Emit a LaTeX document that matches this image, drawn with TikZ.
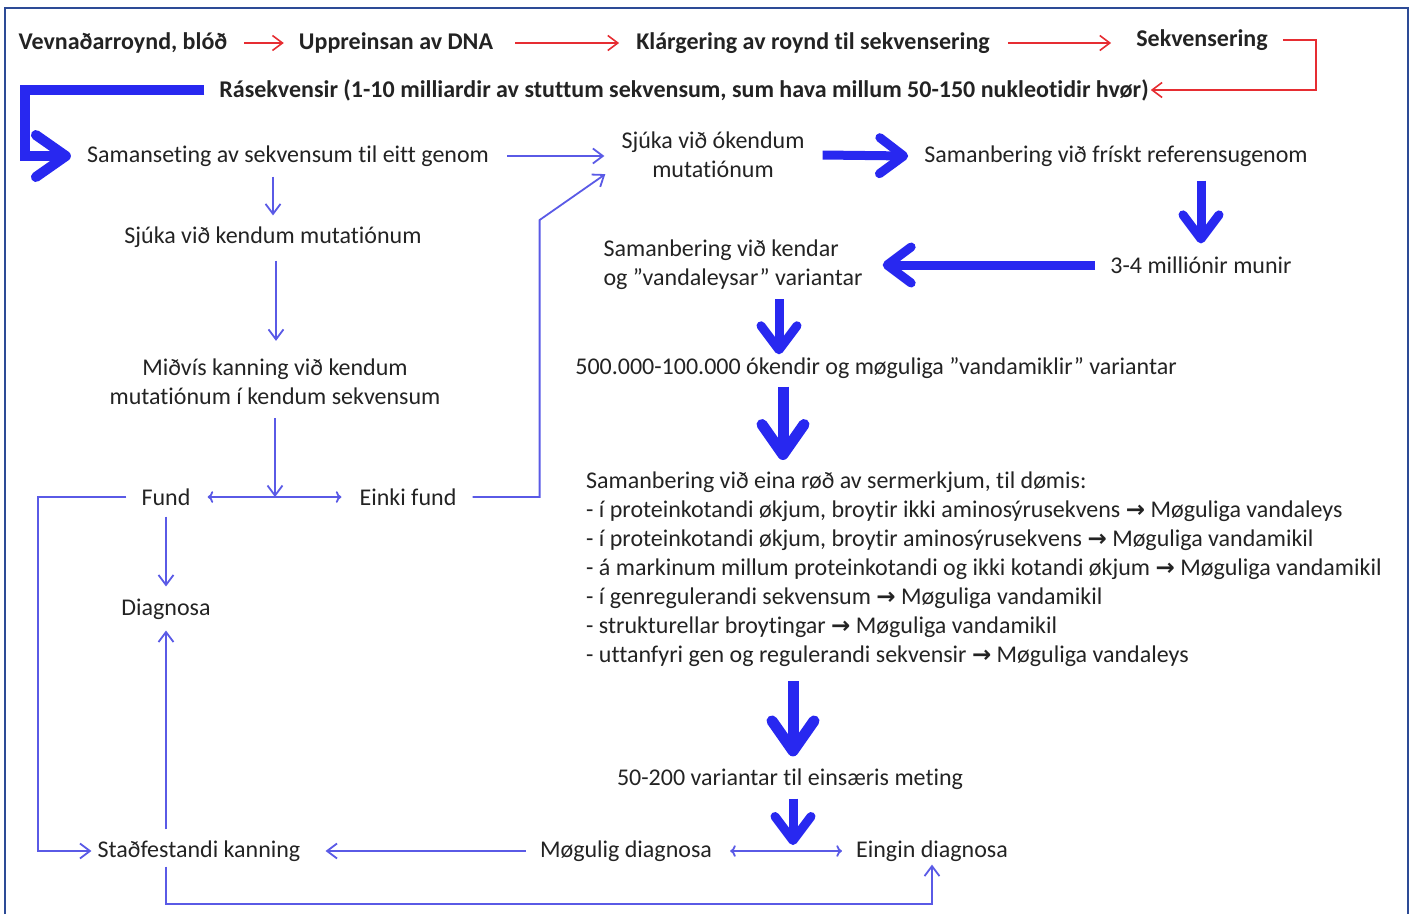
\documentclass[tikz,border=0pt]{standalone}
\usepackage{fontspec}
\setmainfont{Carlito}[Ligatures=CommonOff]
\newfontfamily\pila{DejaVu Sans}
\usetikzlibrary{arrows.meta}
\definecolor{rodur}{RGB}{230,45,50}
\definecolor{blar}{RGB}{90,90,230}
\definecolor{fatblar}{RGB}{40,40,240}
\definecolor{ramma}{RGB}{45,75,150}
\definecolor{tekst}{RGB}{35,35,35}
\tikzset{
  txt/.style={inner sep=0pt, text=tekst, font=\fontsize{24}{29}\selectfont},
  btxt/.style={inner sep=0pt, text=tekst, font=\fontsize{24}{29}\selectfont\bfseries},
  redarr/.style={draw=rodur, line width=1.6pt, -{Straight Barb[length=10pt,width=15pt]}},
  thinarr/.style={draw=blar, line width=1.8pt, -{Straight Barb[length=10pt,width=15pt]}},
  fatarr/.style={draw=fatblar, line width=9pt, -{Straight Barb[length=24pt,width=36pt,round]}},
  storarr/.style={draw=fatblar, line width=11pt, -{Straight Barb[length=30pt,width=42pt,round]}},
}
\newcommand{\pil}{{\pila\bfseries\fontsize{23}{29}\selectfont →}}

\begin{document}
\begin{tikzpicture}[x=1pt,y=-1pt]
  \useasboundingbox (0,0) rectangle (1410,914);
  \draw[ramma, line width=1.5pt] (5,914) -- (5,8) -- (1408,8) -- (1408,914);

  % top row
  \node[btxt] (vevn) at (123,43) {Vevnaðarroynd, blóð};
  \node[btxt] (uppr) at (396,43) {Uppreinsan av DNA};
  \node[btxt] (klar) at (813,43) {Klárgering av roynd til sekvensering};
  \node[btxt] (sekv) at (1202,40) {Sekvensering};
  \node[btxt] (rase) at (684,90) {Rásekvensir (1-10 milliardir av stuttum sekvensum, sum hava millum 50-150 nukleotidir hvør)};
  \draw[redarr] ([xshift=17pt]vevn.east) -- ([xshift=-15pt]uppr.west);
  \draw[redarr] ([xshift=22pt]uppr.east) -- ([xshift=-17pt]klar.west);
  \draw[redarr] ([xshift=18pt]klar.east) -- ([xshift=-25pt]klar.east -| sekv.west);
  \draw[redarr] ([xshift=15pt]sekv.east) -- ++(33,0) |- ([xshift=2pt]rase.east);

  % nodes
  \node[txt] (saman) at (288,156) {Samanseting av sekvensum til eitt genom};
  \node[txt, align=center] (okend) at (713,155) {Sjúka við ókendum\\mutatiónum};
  \node[txt] (frisk) at (1116,156) {Samanbering við frískt referensugenom};
  \node[txt] (munir) at (1201,265) {3-4 milliónir munir};
  \node[txt, align=left] (kendar) at (733,265) {Samanbering við kendar\\og ”vandaleysar” variantar};
  \node[txt] (ovand) at (876,368) {500.000-100.000 ókendir og møguliga ”vandamiklir” variantar};
  \node[txt, align=left, anchor=north west] (serm) at (586,472) {Samanbering við eina røð av sermerkjum, til dømis:\\
    - í proteinkotandi økjum, broytir ikki aminosýrusekvens \pil{} Møguliga vandaleys\\
    - í proteinkotandi økjum, broytir aminosýrusekvens \pil{} Møguliga vandamikil\\
    - á markinum millum proteinkotandi og ikki kotandi økjum \pil{} Møguliga vandamikil\\
    - í genregulerandi sekvensum \pil{} Møguliga vandamikil\\
    - strukturellar broytingar \pil{} Møguliga vandamikil\\
    - uttanfyri gen og regulerandi sekvensir \pil{} Møguliga vandaleys};
  \node[txt] (einsaer) at (790,779) {50-200 variantar til einsæris meting};
  \node[txt] (mogul) at (626,851) {Møgulig diagnosa};
  \node[txt] (eingin) at (932,851) {Eingin diagnosa};
  \node[txt] (stad) at (199,851) {Staðfestandi kanning};
  \node[txt] (kendmut) at (273,237) {Sjúka við kendum mutatiónum};
  \node[txt, align=center] (midvis) at (275,382) {Miðvís kanning við kendum\\mutatiónum í kendum sekvensum};
  \node[txt] (fund) at (166,497) {Fund};
  \node[txt] (einki) at (408,497) {Einki fund};
  \node[txt] (diag) at (166,609) {Diagnosa};
  \coordinate (hjorn) at (25,156);

  % thick arrows
  \draw[storarr, line width=10pt] ([xshift=-15pt]rase.west) -| (hjorn) -- ([xshift=-16pt]saman.west);
  \draw[fatarr] ([xshift=18pt]okend.east) -- ([xshift=-16pt]frisk.west);
  \draw[fatarr] ([yshift=-14pt]munir.north |- frisk.south) -- ([yshift=13pt]munir.north);
  \draw[fatarr] ([xshift=-15pt]munir.west) -- ([xshift=20pt]kendar.east |- munir.west);
  \draw[fatarr] ([xshift=46pt,yshift=-9pt]kendar.south) -- ([xshift=46pt,yshift=3pt]ovand.north -| kendar.south);
  \draw[storarr] ([xshift=-93pt,yshift=-8pt]ovand.south) -- ([xshift=-93pt,yshift=12pt]serm.north -| ovand.south);
  \draw[storarr] ([xshift=3pt,yshift=-14pt]serm.south -| einsaer.north) -- ([xshift=3pt,yshift=12pt]einsaer.north);
  \draw[fatarr] ([xshift=3pt,yshift=-9pt]einsaer.south) -- ([xshift=3pt,yshift=6pt]einsaer.south |- mogul.east);

  % thin arrows
  \draw[thinarr] ([xshift=18pt]saman.east) -- ([xshift=-17pt]saman.east -| okend.west);
  \draw[thinarr] ([yshift=-10pt]saman.south -| kendmut.north) -- ([yshift=11pt]kendmut.north);
  \draw[thinarr] ([xshift=3pt,yshift=-13pt]kendmut.south) -- ([xshift=3pt,yshift=18pt]midvis.north -| kendmut.south);
  \draw[thinarr] ([yshift=-13pt]midvis.south) -- (midvis.south |- fund.east);
  \draw[thinarr, <->] ([xshift=17pt]fund.east) -- ([xshift=-18pt]einki.west);
  \draw[thinarr] ([xshift=16pt]einki.east) -- ++(67,0) -- ++(0,-277) -- ([xshift=-16pt,yshift=4pt]okend.south west);
  \draw[thinarr] ([yshift=-11pt]fund.south) -- ([yshift=12pt]diag.north);
  \draw[thinarr] ([xshift=-15pt]fund.west) -- ++(-88,0) |- ([xshift=-6pt]stad.west);
  \draw[thinarr] ([yshift=11pt]stad.north -| diag.south) -- ([yshift=-11pt]diag.south);
  \draw[thinarr] ([xshift=-14pt]mogul.west) -- ([xshift=25pt]stad.east);
  \draw[thinarr, <->] ([xshift=18pt]mogul.east) -- ([xshift=-14pt]eingin.west);
  \draw[thinarr] ([yshift=-5pt]stad.south -| diag.south) -- ++(0,37) -| ([yshift=-3pt]eingin.south);
\end{tikzpicture}
\end{document}
